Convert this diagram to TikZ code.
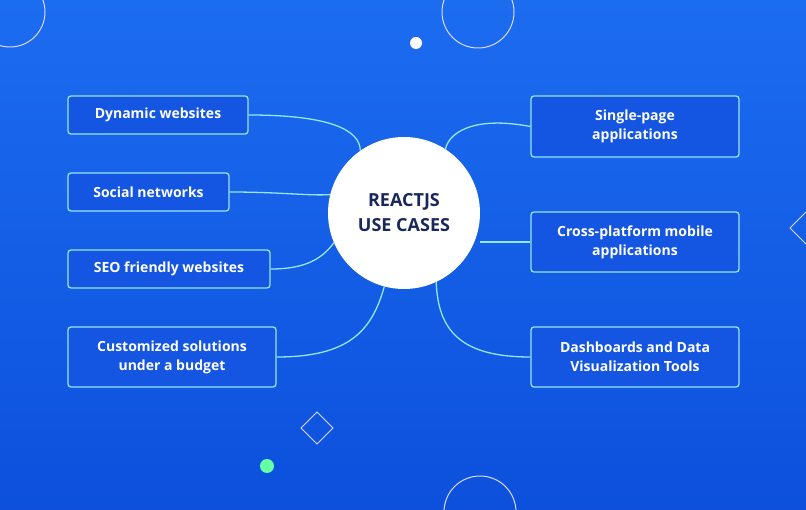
\documentclass[tikz,border=0pt]{standalone}
\usepackage{fontspec}
\setmainfont{Open Sans}
\begin{document}
\begin{tikzpicture}[x=1pt,y=-1pt,
  box/.style={draw=linec,line width=1.3pt,fill=boxc,rounded corners=3pt,text=white,font=\bfseries\fontsize{14}{19}\selectfont,align=center,inner sep=0pt},
  conn/.style={draw=linec,line width=1.3pt},
  deco/.style={draw=white!85!blue,line width=1pt}]
\definecolor{linec}{RGB}{150,230,240}
\definecolor{boxc}{RGB}{20,85,225}
\definecolor{navy}{RGB}{25,40,90}
\definecolor{bgl}{RGB}{28,108,240}
\definecolor{bgd}{RGB}{12,80,220}
\useasboundingbox (0,0) rectangle (806,510);
\shade[top color=bgl,bottom color=bgd] (0,0) rectangle (806,510);
% decorations
\draw[deco] (10,12) circle (35);
\draw[deco] (478,12) circle (36);
\fill[white] (416,43) circle (6);
\draw[deco] (317,412) -- (333,428) -- (317,444) -- (301,428) -- cycle;
\fill[green!60!cyan!60!white] (267,466) circle (7);
\draw[deco] (480,512) circle (36);
\draw[deco] (806,212) -- (790,228) -- (806,244);
% nodes
\node[circle,fill=white,minimum size=152pt,text=navy,font=\bfseries\fontsize{18}{25}\selectfont,align=center,inner sep=0pt] (c) at (404,213) {REACTJS\\USE CASES};
\node[box,minimum width=180pt,minimum height=38pt] (a1) at (158,115) {Dynamic websites};
\node[box,minimum width=161pt,minimum height=38pt] (a2) at (148.5,192) {Social networks};
\node[box,minimum width=202pt,minimum height=38pt] (a3) at (169,269) {SEO friendly websites};
\node[box,minimum width=208pt,minimum height=60pt] (a4) at (172,357) {Customized solutions\\under a budget};
\node[box,minimum width=208pt,minimum height=61pt] (b1) at (635,126.5) {Single-page\\applications};
\node[box,minimum width=208pt,minimum height=60pt] (b2) at (635,242) {Cross-platform mobile\\applications};
\node[box,minimum width=208pt,minimum height=60pt] (b3) at (635,357) {Dashboards and Data\\Visualization Tools};
% connectors
\draw[conn] (a1.east) .. controls (330,115) and (360,130) .. (c.125);
\draw[conn] (a2.east) .. controls (280,192) and (310,196) .. (c.166);
\draw[conn] (a3.east) .. controls (300,269) and (320,262) .. (c.203);
\draw[conn] (a4.east) .. controls (350,357) and (372,330) .. (c.255);
\draw[conn] (b1.west) .. controls (470,115) and (448,135) .. (c.57);
\draw[conn] (b2.west) -- (c.east |- b2.west);
\draw[conn] (b3.west) .. controls (460,357) and (438,330) .. (c.295);
\end{tikzpicture}
\end{document}
